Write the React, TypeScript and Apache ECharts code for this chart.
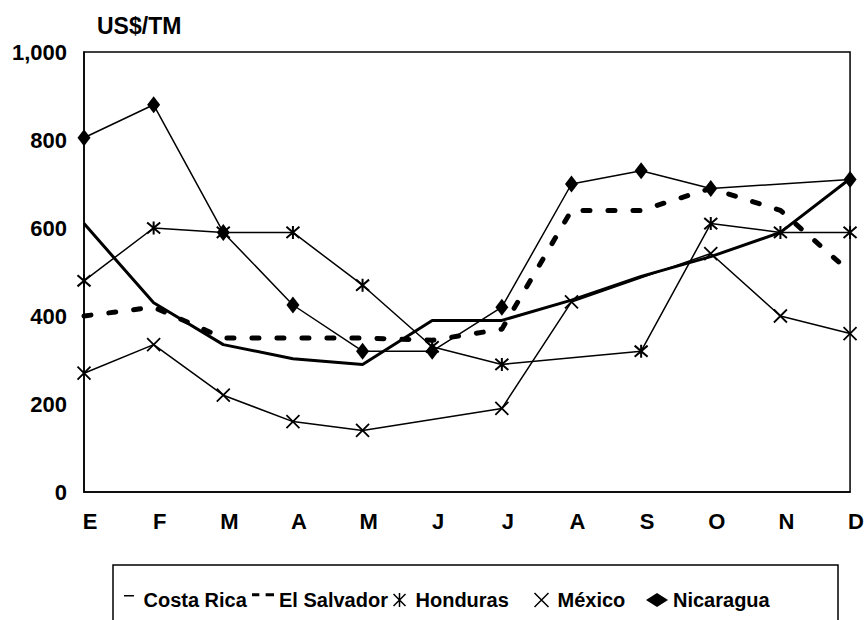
import React, { useEffect, useRef } from "react";
import * as echarts from "echarts";

const categories = ["E", "F", "M", "A", "M", "J", "J", "A", "S", "O", "N", "D"];
const yTicks = [0, 200, 400, 600, 800, 1000];
const costaRica = [610, 430, 335, 303, 290, 390, 390, 436, 490, 535, 590, 712];
const elSalvador = [400, 420, 350, 350, 350, 345, 370, 640, 640, 690, 640, 500];
const honduras = [480, 600, 590, 590, 470, 330, 290, null, 320, 610, 590, 590];
const mexico = [270, 335, 220, 160, 140, null, 190, 432, null, 542, 400, 360];
const nicaragua = [805, 880, 590, 425, 320, 320, 420, 700, 730, 690, null, 710];
const seriesNames = ["Costa Rica", "El Salvador", "Honduras", "México", "Nicaragua"];

const FONT = "'Liberation Sans', Arial, sans-serif";
const STAR = "path://M0 0 L12 12 M12 0 L0 12 M6 -1 L6 13";
const CROSS = "path://M0 0 L12 12 M12 0 L0 12";
const CR_ICON = "path://M3 2 L13 2 L13 3.6 L3 3.6 Z M0 0 L0.05 0 L0.05 0.05 Z M0 14 L0.05 14 L0.05 14.05 Z";
const ES_ICON = "path://M0 1 L7 1 L7 4 L0 4 Z M13 1 L21 1 L21 4 L13 4 Z M0 14 L0.05 14 L0.05 14.05 Z";

export default function App() {
  const ref = useRef<HTMLDivElement>(null);
  useEffect(() => {
    document.body.style.margin = "0";
    const chart = echarts.init(ref.current!, null, { renderer: "svg" });
    const strokeStyle = { color: "none", borderColor: "#000", borderWidth: 1.5 };
    const legendIcons = [
      { icon: CR_ICON, itemStyle: { color: "#000", borderWidth: 0 } },
      { icon: ES_ICON, itemStyle: { color: "#000", borderWidth: 0 } },
      { icon: STAR, itemStyle: strokeStyle },
      { icon: CROSS, itemStyle: strokeStyle },
      { icon: "diamond", itemStyle: { color: "#000", borderWidth: 0 } },
    ];
    const legendLefts = [121, 252, 391, 532, 646];
    const legends = seriesNames.map((name, i) => ({
      left: legendLefts[i],
      top: 590,
      itemWidth: 22,
      itemHeight: 14,
      itemGap: 0,
      padding: 0,
      symbolKeepAspect: true,
      textStyle: { fontFamily: FONT, fontWeight: "bold", fontSize: 20, color: "#000" },
      data: [{ name, ...legendIcons[i] }],
    }));
    chart.setOption({
      animation: false,
      backgroundColor: "#fff",
      textStyle: { fontFamily: FONT },
      grid: {
        left: 84,
        right: 14,
        top: 52,
        bottom: 128,
        show: true,
        borderColor: "#000",
        borderWidth: 1.5,
        containLabel: false,
      },
      graphic: [
        {
          type: "text",
          left: 97,
          top: 14,
          style: { text: "US$/TM", font: `bold 23px ${FONT}`, fill: "#000" },
        },
        {
          type: "rect",
          shape: { x: 113, y: 565, width: 725, height: 80 },
          style: { fill: "none", stroke: "#000", lineWidth: 1.5 },
          z: 0,
        },
      ],
      legend: legends,
      xAxis: {
        type: "category",
        data: categories,
        boundaryGap: false,
        axisLine: { show: true, lineStyle: { color: "#000", width: 1.5 } },
        axisTick: { show: false },
        axisLabel: {
          color: "#000",
          fontWeight: "bold",
          fontSize: 22,
          fontFamily: FONT,
          margin: 18,
          padding: [0, 0, 0, 12],
        },
      },
      yAxis: {
        type: "value",
        min: 0,
        max: 1000,
        interval: 200,
        axisLine: { show: true, lineStyle: { color: "#000", width: 1.5 } },
        axisTick: { show: false },
        splitLine: { show: false },
        axisLabel: {
          color: "#000",
          fontWeight: "bold",
          fontSize: 22,
          fontFamily: FONT,
          margin: 17,
          padding: [8, 0, 0, 0],
          formatter: (v: number) => (yTicks.includes(v) ? v.toLocaleString("en-US") : ""),
        },
      },
      series: [
        {
          name: seriesNames[0],
          type: "line",
          data: costaRica,
          symbol: "none",
          lineStyle: { color: "#000", width: 3 },
          itemStyle: { color: "#000" },
          z: 3,
        },
        {
          name: seriesNames[1],
          type: "line",
          data: elSalvador,
          symbol: "none",
          lineStyle: { color: "#000", width: 5, type: [7, 18], cap: "round" },
          itemStyle: { color: "#000" },
          z: 3,
        },
        {
          name: seriesNames[2],
          type: "line",
          data: honduras,
          connectNulls: true,
          symbol: STAR,
          symbolSize: [13, 13],
          lineStyle: { color: "#000", width: 1.5 },
          itemStyle: { ...strokeStyle, borderWidth: 2 },
          z: 4,
        },
        {
          name: seriesNames[3],
          type: "line",
          data: mexico,
          connectNulls: true,
          symbol: CROSS,
          symbolSize: [13, 13],
          lineStyle: { color: "#000", width: 1.5 },
          itemStyle: { ...strokeStyle, borderWidth: 1.8 },
          z: 4,
        },
        {
          name: seriesNames[4],
          type: "line",
          data: nicaragua,
          connectNulls: true,
          symbol: "diamond",
          symbolSize: [13, 17],
          lineStyle: { color: "#000", width: 1.5 },
          itemStyle: { color: "#000" },
          z: 4,
        },
      ],
    });
    return () => chart.dispose();
  }, []);
  return <div ref={ref} style={{ width: 867, height: 620 }} />;
}
